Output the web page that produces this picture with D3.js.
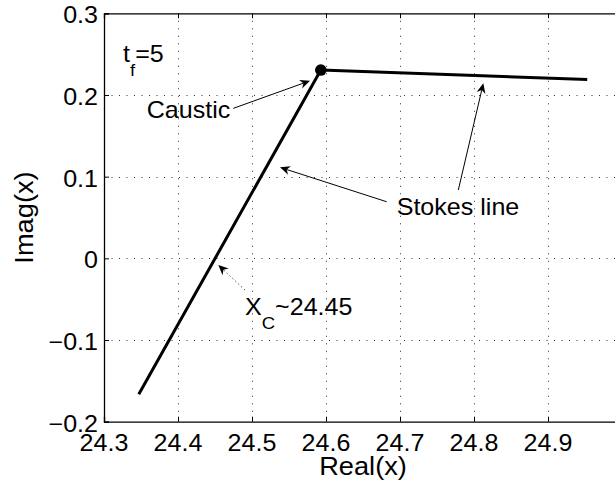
<!DOCTYPE html>
<html><head><meta charset="utf-8">
<script src="https://cdn.jsdelivr.net/npm/d3@7"></script>
<style>html,body{margin:0;padding:0;background:#fff;} svg{display:block;}</style>
</head><body><svg id="c" width="615" height="490"></svg>
<script>
// ---- data ----
const realX = [24.347, 24.593, 24.953];
const imagY = [-0.1665, 0.2305, 0.219];
const causticPoint = [24.593, 0.2305];
const xTickValues = [24.3, 24.4, 24.5, 24.6, 24.7, 24.8, 24.9, 25.0];
const xTickLabels = ["24.3", "24.4", "24.5", "24.6", "24.7", "24.8", "24.9"];
const yTickValues = [-0.2, -0.1, 0, 0.1, 0.2, 0.3];
const yTickLabels = ["\u22120.2", "\u22120.1", "0", "0.1", "0.2", "0.3"];
// annotation arrows (data coords): from -> to, dotted flag
const arrowFrom = [[24.4747, 0.1836], [24.682, 0.0693], [24.7788, 0.0836], [24.4905, -0.0388]];
const arrowTo = [[24.5784, 0.2174], [24.5378, 0.1114], [24.8126, 0.2143], [24.4545, -0.0082]];
const arrowDotted = [false, false, false, true];
// annotation texts (data coords of start/baseline)
const noteText = [
  [{t: "t"}, {t: "f", sub: true}, {t: "=5"}],
  [{t: "Caustic"}],
  [{t: "Stokes line"}],
  [{t: "X"}, {t: "C", sub: true}, {t: "~24.45"}]
];
const notePos = [[24.3257, 0.2407], [24.3577, 0.1714], [24.6955, 0.053], [24.4905, -0.0694]];
const xLabel = "Real(x)";
const yLabel = "Imag(x)";

// ---- layout ----
const L = 104, R = 622, T = 13.3, B = 421.7;
const FONT = "'Liberation Sans', Arial, Helvetica, sans-serif";
const FS = 23, LABFS = 25, SUBFS = 17, STRETCH = 1.09;
const svg = d3.select("#c");
svg.append("rect").attr("width", 615).attr("height", 490).attr("fill", "#fff");
const x = d3.scaleLinear().domain([24.3, 25.0]).range([L, R]);
const y = d3.scaleLinear().domain([-0.2, 0.3]).range([B, T]);

function txt(px, py, anchor, parts, rotate, size) {
  const g = svg.append("g").attr("transform",
    `translate(${px},${py})` + (rotate ? ` rotate(${rotate})` : "") + ` scale(${STRETCH},1)`);
  const t = g.append("text").attr("font-family", FONT).attr("font-size", size || FS)
    .attr("text-anchor", anchor).attr("fill", "#000");
  let shift = 0;
  parts.forEach(p => {
    const s = t.append("tspan").text(p.t);
    if (p.sub) { s.attr("font-size", SUBFS).attr("dy", 13.8 - shift); shift = 13.8; }
    else { if (shift) s.attr("dy", -shift); shift = 0; }
  });
  return g;
}

// grid
const grid = svg.append("g").attr("stroke", "#333").attr("stroke-width", 1)
  .attr("stroke-dasharray", "1,6.5");
xTickValues.slice(1).forEach(v => grid.append("line")
  .attr("x1", Math.round(x(v)) + 0.5).attr("x2", Math.round(x(v)) + 0.5).attr("y1", T).attr("y2", B));
yTickValues.slice(1, -1).forEach(v => grid.append("line")
  .attr("y1", Math.round(y(v)) + 0.5).attr("y2", Math.round(y(v)) + 0.5).attr("x1", L).attr("x2", R));

// axes with d3 axis generators (inner ticks)
const xAxisB = d3.axisBottom(x).tickValues(xTickValues).tickSize(-5).tickFormat("");
const xAxisT = d3.axisTop(x).tickValues(xTickValues).tickSize(-5).tickFormat("");
const yAxisL = d3.axisLeft(y).tickValues(yTickValues).tickSize(-5).tickFormat("");
svg.append("g").attr("transform", `translate(0,${B})`).call(xAxisB);
svg.append("g").attr("transform", `translate(0,${T})`).call(xAxisT);
svg.append("g").attr("transform", `translate(${L},0)`).call(yAxisL);
svg.selectAll(".domain").attr("stroke", "#000").attr("stroke-width", 1.3);
svg.selectAll(".tick line").attr("stroke", "#000").attr("stroke-width", 1);

// tick labels
xTickLabels.forEach((lab, i) => txt(x(xTickValues[i]), B + 29, "middle", [{t: lab}]));
yTickValues.forEach((v, i) => txt(L - 6, y(v) + 10, "end", [{t: yTickLabels[i]}]));

// axis labels
txt((L + R) / 2, 475, "middle", [{t: xLabel}], 0, LABFS);
txt(33, (T + B) / 2, "middle", [{t: yLabel}], -90, LABFS);

// data line
const pts = realX.map((v, i) => [v, imagY[i]]);
svg.append("path").datum(pts)
  .attr("d", d3.line().x(d => x(d[0])).y(d => y(d[1])))
  .attr("fill", "none").attr("stroke", "#000").attr("stroke-width", 3)
  .attr("stroke-linejoin", "round");
svg.append("circle").attr("cx", x(causticPoint[0])).attr("cy", y(causticPoint[1]))
  .attr("r", 5.8).attr("fill", "#000");

// arrows
arrowFrom.forEach((f, i) => {
  const x0 = x(f[0]), y0 = y(f[1]), x1 = x(arrowTo[i][0]), y1 = y(arrowTo[i][1]);
  const a = Math.atan2(y1 - y0, x1 - x0);
  const hl = 10, hw = 4.5, back = 7;
  const ux = Math.cos(a), uy = Math.sin(a), nx = -uy, ny = ux;
  const bx = x1 - ux * hl, by = y1 - uy * hl;
  const ix = x1 - ux * back, iy = y1 - uy * back;
  svg.append("line").attr("x1", x0).attr("y1", y0).attr("x2", ix).attr("y2", iy)
    .attr("stroke", "#000").attr("stroke-width", 1)
    .attr("stroke-dasharray", arrowDotted[i] ? "1,3" : null);
  svg.append("path")
    .attr("d", `M${x1},${y1}L${bx + nx * hw},${by + ny * hw}L${ix},${iy}L${bx - nx * hw},${by - ny * hw}Z`)
    .attr("fill", "#000");
});

// annotation texts
noteText.forEach((parts, i) => txt(x(notePos[i][0]), y(notePos[i][1]), "start", parts));
</script></body></html>
